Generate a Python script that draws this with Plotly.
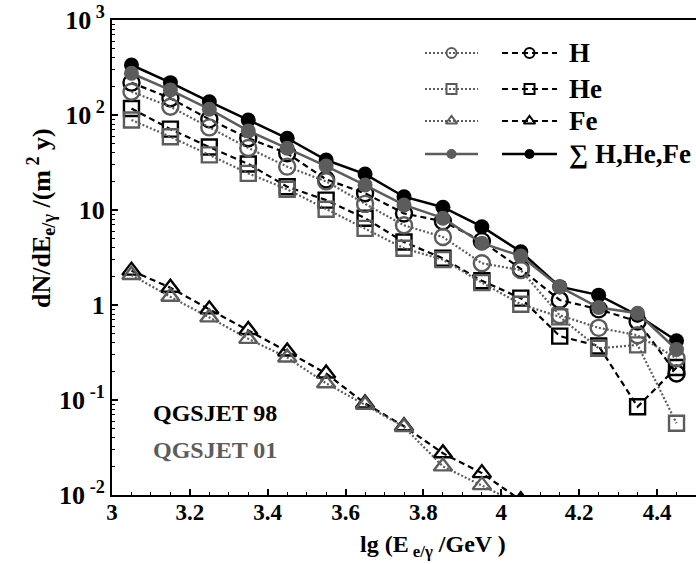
import plotly.graph_objects as go

# Energy bins, lg(E / GeV)
lg_E = [3.05, 3.15, 3.25, 3.35, 3.45, 3.55, 3.65, 3.75, 3.85, 3.95, 4.05, 4.15, 4.25, 4.35, 4.45]

# QGSJET 98 (black)
h_98 = [219, 150, 90, 57, 39.5, 21, 15, 9.2, 7.6, 4.7, 2.4, 1.13, 0.9, 0.67, 0.19]
he_98 = [117, 71, 46, 30.5, 17.6, 12.7, 8.2, 4.6, 3.1, 1.8, 1.18, 0.47, 0.37, 0.085, 0.22]
fe_98 = [2.3, 1.52, 0.9, 0.545, 0.324, 0.19, 0.092, 0.053, 0.0275, 0.017, 0.0088]
sum_98 = [336, 219, 138, 88.6, 56.9, 33.6, 23.9, 13.8, 10.7, 6.67, 3.64, 1.56, 1.27, 0.78, 0.42]

# QGSJET 01 (grey)
h_01 = [176, 122, 74, 45, 28.6, 20, 11.6, 6.9, 5.2, 2.75, 2.33, 0.78, 0.575, 0.48, 0.275]
he_01 = [88.6, 59, 38, 24.3, 16.5, 10.2, 6.4, 3.95, 3.0, 1.72, 1.02, 0.75, 0.35, 0.38, 0.057]
fe_01 = [2.07, 1.22, 0.74, 0.44, 0.28, 0.15, 0.089, 0.052, 0.02, 0.0127, 0.0079]
sum_01 = [275, 183, 115, 68, 44.6, 29, 18.3, 11.3, 8.2, 4.47, 3.28, 1.55, 0.94, 0.82, 0.34]

y_tickvals = [0.01, 0.1, 1, 10, 100, 1000]
y_ticktext = ["10<sup> -2</sup>", "10<sup> -1</sup>", "1", "10", "10<sup> 2</sup>", "10<sup> 3</sup>"]
x_tickvals = [3.0, 3.2, 3.4, 3.6, 3.8, 4.0, 4.2, 4.4]
x_ticktext = ["3", "3.2", "3.4", "3.6", "3.8", "4", "4.2", "4.4"]

legend_labels = ["H", "He", "Fe", "\u2211 H,He,Fe"]
model_labels = ["QGSJET 98", "QGSJET 01"]

BLACK = "#000000"
GRAY = "#5c5c5c"
FONT = "Liberation Serif"

W, H = 696, 564
L, R, T, B = 112, 0, 20, 69

DOTTED = "2px,2px"
DASHED = "6px,4px"

fig = go.Figure()


def series(x, y, color, dash, symbol, size, lw=2.2, filled=False):
    if filled:
        marker = dict(symbol=symbol, size=size, color=color, line=dict(width=0))
    else:
        marker = dict(symbol=symbol, size=size, color=color, line=dict(width=2.4, color=color))
    fig.add_trace(go.Scatter(
        x=x, y=y, mode="lines+markers",
        line=dict(color=color, width=lw, dash=dash),
        marker=marker, showlegend=False, hoverinfo="skip",
    ))


# QGSJET 98
series(lg_E, h_98, BLACK, DASHED, "circle-open", 16)
series(lg_E, he_98, BLACK, DASHED, "square-open", 15)
series(lg_E[:len(fe_98)], fe_98, BLACK, DASHED, "triangle-up-open", 16)
series(lg_E, sum_98, BLACK, "solid", "circle", 15, lw=2.5, filled=True)
# QGSJET 01
series(lg_E, h_01, GRAY, DOTTED, "circle-open", 16)
series(lg_E, he_01, GRAY, DOTTED, "square-open", 15)
series(lg_E[:len(fe_01)], fe_01, GRAY, DOTTED, "triangle-up-open", 16)
series(lg_E, sum_01, GRAY, "solid", "circle", 15, lw=2.5, filled=True)


# Legend key, drawn on a hidden unit overlay axis
def px_x(p):
    return (p - L) / (W - L - R)


def px_y(p):
    return (H - B - p) / (H - T - B)


rows = [53, 89, 121, 154]
key_symbols = ["circle-open", "square-open", "triangle-up-open", "circle"]
columns = [
    (GRAY, DOTTED, 425, 478),
    (BLACK, DASHED, 502, 557),
]
for row, sym in zip(rows, key_symbols):
    yy = px_y(row)
    for color, dash, x0, x1 in columns:
        filled = sym == "circle"
        d = "solid" if filled else dash
        xm = (x0 + x1) / 2
        fig.add_trace(go.Scatter(
            x=[px_x(x0), px_x(x1)], y=[yy, yy], mode="lines",
            line=dict(color=color, width=2.5 if filled else 2.2, dash=d),
            xaxis="x2", yaxis="y2", showlegend=False, hoverinfo="skip",
        ))
        fig.add_trace(go.Scatter(
            x=[px_x(xm)], y=[yy], mode="markers",
            marker=dict(symbol=sym, size=10, color=color,
                        line=dict(width=0 if filled else 2, color=color)),
            xaxis="x2", yaxis="y2", showlegend=False, hoverinfo="skip",
        ))

annotations = []
for row, text in zip(rows, legend_labels):
    annotations.append(dict(
        x=px_x(567), y=px_y(row), xref="paper", yref="paper",
        text=text, showarrow=False, xanchor="left", yanchor="middle",
        font=dict(family=FONT, size=27, color=BLACK, weight="bold"),
    ))

for text, color, row in zip(model_labels, [BLACK, GRAY], [413, 450]):
    annotations.append(dict(
        x=px_x(151), y=px_y(row), xref="paper", yref="paper",
        text=text, showarrow=False, xanchor="left", yanchor="middle",
        font=dict(family=FONT, size=24, color=color, weight="bold"),
    ))

# Axis titles
annotations.append(dict(
    x=px_x(433), y=px_y(546), xref="paper", yref="paper",
    text="lg (E<sub> e/\u03b3</sub> /GeV )", showarrow=False,
    xanchor="center", yanchor="middle",
    font=dict(family=FONT, size=24, color=BLACK, weight="bold"),
))
annotations.append(dict(
    x=px_x(41), y=px_y(218), xref="paper", yref="paper",
    text="dN/dE<sub>e/\u03b3</sub> /(m<sup> 2</sup> y)", showarrow=False,
    textangle=-90, xanchor="center", yanchor="middle",
    font=dict(family=FONT, size=26, color=BLACK, weight="bold"),
))

minor_y = [m * 10 ** e for e in range(-2, 3) for m in range(2, 10)]

fig.update_layout(
    width=W, height=H,
    margin=dict(l=L, r=R, t=T, b=B),
    paper_bgcolor="white", plot_bgcolor="white",
    showlegend=False,
    annotations=annotations,
    xaxis=dict(
        range=[3, 4.5], showgrid=False, zeroline=False,
        showline=True, linecolor=BLACK, linewidth=2, mirror=True,
        tickvals=x_tickvals, ticktext=x_ticktext,
        ticks="inside", ticklen=6, tickwidth=1.5, tickcolor=BLACK,
        ticklabelstandoff=-5,
        minor=dict(dtick=0.05, tick0=3, ticks="inside", ticklen=3, tickwidth=1.2, tickcolor=BLACK),
        tickfont=dict(family=FONT, size=23, color=BLACK, weight="bold"),
    ),
    yaxis=dict(
        type="log", range=[-2, 3], showgrid=False, zeroline=False,
        showline=True, linecolor=BLACK, linewidth=2,
        tickvals=y_tickvals, ticktext=y_ticktext,
        ticks="inside", ticklen=6, tickwidth=1.5, tickcolor=BLACK,
        minor=dict(tickvals=minor_y, ticks="inside", ticklen=3, tickwidth=1.2, tickcolor=BLACK),
        tickfont=dict(family=FONT, size=26, color=BLACK, weight="bold"),
    ),
    xaxis2=dict(range=[0, 1], overlaying="x", visible=False, fixedrange=True),
    yaxis2=dict(range=[0, 1], overlaying="y", visible=False, fixedrange=True),
)

fig.write_html("out.html")
